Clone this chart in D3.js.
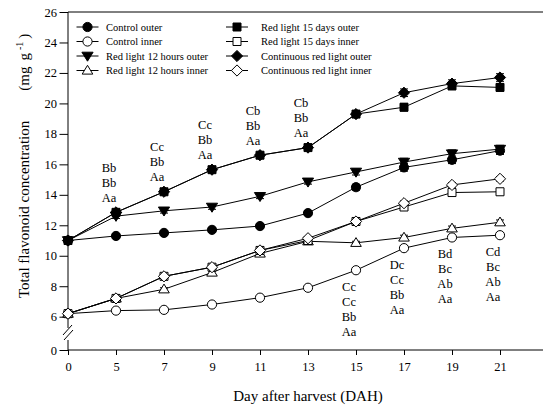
<!doctype html>
<html>
<head>
<meta charset="utf-8">
<script src="https://cdnjs.cloudflare.com/ajax/libs/d3/7.8.5/d3.min.js"></script>
<style>
  body { margin: 0; background: #fff; }
  svg { font-family: "Liberation Serif", "Times New Roman", serif; }
  .axis path.domain { display: none; }
</style>
</head>
<body>
<svg id="chart" width="543" height="411"></svg>
<script>
// days after harvest
var days = [0, 5, 7, 9, 11, 13, 15, 17, 19, 21];

// total flavonoid concentration (mg/g)
var controlOuter = [11.0, 11.3, 11.5, 11.7, 11.95, 12.8, 14.5, 15.8, 16.3, 16.9];
var controlInner = [6.2, 6.4, 6.45, 6.8, 7.25, 7.9, 9.05, 10.5, 11.2, 11.35];
var red12Outer   = [11.0, 12.6, 12.95, 13.2, 13.9, 14.85, 15.5, 16.15, 16.7, 17.0];
var red12Inner   = [6.2, 7.2, 7.8, 8.9, 10.15, 10.95, 10.85, 11.2, 11.8, 12.2];
var red15Outer   = [11.0, 12.85, 14.2, 15.65, 16.6, 17.1, 19.3, 19.75, 21.15, 21.05];
var red15Inner   = [6.2, 7.2, 8.65, 9.25, 10.35, 11.0, 12.25, 13.2, 14.15, 14.2];
var contOuter    = [11.0, 12.85, 14.2, 15.65, 16.6, 17.1, 19.3, 20.7, 21.3, 21.7];
var contInner    = [6.2, 7.2, 8.65, 9.25, 10.35, 11.15, 12.25, 13.45, 14.65, 15.05];

// standard errors
var errSmall = [0.1, 0.1, 0.1, 0.1, 0.1, 0.1, 0.1, 0.15, 0.15, 0.15];
var errLarge = [0.15, 0.15, 0.15, 0.15, 0.15, 0.15, 0.2, 0.25, 0.25, 0.25];

var seriesNames = ["Control outer", "Control inner", "Red light 12 hours outer", "Red light 12 hours inner",
                   "Red light 15 days outer", "Red light 15 days inner", "Continuous red light outer", "Continuous red light inner"];

// significance letters
var annotDays   = [5, 7, 9, 11, 13, 15, 17, 19, 21];
var annotLabels = [["Bb", "Bb", "Aa"], ["Cc", "Bb", "Aa"], ["Cc", "Bb", "Aa"], ["Cb", "Bb", "Aa"], ["Cb", "Bb", "Aa"],
                   ["Cc", "Cc", "Bb", "Aa"], ["Dc", "Cc", "Bb", "Aa"], ["Bd", "Bc", "Ab", "Aa"], ["Cd", "Bc", "Ab", "Aa"]];
var annotPlace  = ["above", "above", "above", "above", "above", "below", "below", "below", "below"];

var yTicks = [0, 6, 8, 10, 12, 14, 16, 18, 20, 22, 24, 26];

var series = [
  { name: seriesNames[0], values: controlOuter, err: errLarge, shape: "circle",   fill: "#000" },
  { name: seriesNames[1], values: controlInner, err: errSmall, shape: "circle",   fill: "#fff" },
  { name: seriesNames[2], values: red12Outer,   err: errLarge, shape: "triDown",  fill: "#000" },
  { name: seriesNames[3], values: red12Inner,   err: errSmall, shape: "triUp",    fill: "#fff" },
  { name: seriesNames[4], values: red15Outer,   err: errLarge, shape: "square",   fill: "#000" },
  { name: seriesNames[5], values: red15Inner,   err: errSmall, shape: "square",   fill: "#fff" },
  { name: seriesNames[6], values: contOuter,    err: errLarge, shape: "diamond",  fill: "#000" },
  { name: seriesNames[7], values: contInner,    err: errSmall, shape: "diamond",  fill: "#fff" }
];

var plotL = 68, plotT = 12, plotB = 350, plotR = 548;

var svg = d3.select("#chart");

var x = d3.scalePoint().domain(days).range([plotL, 500]);
var y = d3.scaleLinear().domain([0, 6, 26]).range([plotB, 316.7, plotT]);

function shapePath(s) {
  if (s == "circle") return "M4.6,0A4.6,4.6 0 1,1 -4.6,0A4.6,4.6 0 1,1 4.6,0Z";
  if (s == "square") return "M-4,-4L4,-4L4,4L-4,4Z";
  if (s == "diamond") return "M0,-5.6L5.6,0L0,5.6L-5.6,0Z";
  if (s == "triUp") return "M0,-5.2L5.3,3.6L-5.3,3.6Z";
  if (s == "triDown") return "M0,5.2L5.6,-3.8L-5.6,-3.8Z";
}

// frame lines
svg.append("line").attr("x1", plotL).attr("x2", plotR).attr("y1", plotT).attr("y2", plotT).attr("stroke", "#000");
svg.append("line").attr("x1", plotL).attr("x2", plotR).attr("y1", plotB).attr("y2", plotB).attr("stroke", "#000");
svg.append("line").attr("x1", plotL).attr("x2", plotL).attr("y1", plotT).attr("y2", 328).attr("stroke", "#000");
svg.append("line").attr("x1", plotL).attr("x2", plotL).attr("y1", 340).attr("y2", plotB).attr("stroke", "#000");
// axis break
svg.append("line").attr("x1", 63).attr("x2", 72).attr("y1", 335).attr("y2", 325).attr("stroke", "#000");
svg.append("line").attr("x1", 64).attr("x2", 73).attr("y1", 340).attr("y2", 330).attr("stroke", "#000");

// axes
var xAxis = d3.axisBottom(x).tickSizeInner(5).tickSizeOuter(0).tickPadding(7);
svg.append("g").attr("class", "axis").attr("transform", "translate(0," + plotB + ")").call(xAxis)
  .selectAll("text").style("font-size", "12.5px").attr("fill", "#000")
  .style("font-family", "Liberation Serif");

var yAxis = d3.axisLeft(y).tickValues(yTicks).tickSizeInner(8.5).tickSizeOuter(0).tickPadding(2.5);
svg.append("g").attr("class", "axis").attr("transform", "translate(" + plotL + ",0)").call(yAxis)
  .selectAll("text").style("font-size", "12.5px").attr("fill", "#000")
  .style("font-family", "Liberation Serif");

svg.selectAll(".axis line").attr("stroke", "#000");

// series
var line = d3.line().x((d, i) => x(days[i])).y(d => y(d));

series.forEach(function(s) {
  var g = svg.append("g");
  g.append("path").attr("d", line(s.values)).attr("fill", "none").attr("stroke", "#000").attr("stroke-width", 1);
  s.values.forEach(function(v, i) {
    var cx = x(days[i]), e = s.err[i];
    g.append("path")
      .attr("d", "M" + cx + "," + y(v - e) + "V" + y(v + e) +
                 "M" + (cx - 4) + "," + y(v - e) + "H" + (cx + 4) +
                 "M" + (cx - 4) + "," + y(v + e) + "H" + (cx + 4))
      .attr("stroke", "#000").attr("fill", "none");
  });
  g.selectAll("path.pt").data(s.values).enter().append("path")
    .attr("class", "pt")
    .attr("d", shapePath(s.shape))
    .attr("transform", (d, i) => "translate(" + x(days[i]) + "," + y(d) + ")")
    .attr("fill", s.fill).attr("stroke", "#000").attr("stroke-width", 1);
});

// legend
var legX = [76.5, 226], legTextX = [106, 261], legY0 = 27, legDy = 14.5;
series.forEach(function(s, i) {
  var col = Math.floor(i / 4), row = i % 4;
  var ly = legY0 + row * legDy;
  svg.append("line").attr("x1", legX[col]).attr("x2", legX[col] + 22).attr("y1", ly).attr("y2", ly).attr("stroke", "#000");
  svg.append("path").attr("d", shapePath(s.shape))
    .attr("transform", "translate(" + (legX[col] + 11) + "," + ly + ")")
    .attr("fill", s.fill).attr("stroke", "#000");
  svg.append("text").attr("x", legTextX[col]).attr("y", ly + 3.5)
    .style("font-size", "10.5px").text(s.name);
});

// letters
annotDays.forEach(function(d, i) {
  var idx = days.indexOf(d);
  var vals = series.map(s => s.values[idx]);
  var labels = annotLabels[i];
  var cx = x(d) - 7;
  labels.forEach(function(lab, j) {
    var cy;
    if (annotPlace[i] == "above") cy = y(d3.max(vals)) - 15 - (labels.length - 1 - j) * 15;
    else cy = y(d3.min(vals)) + 16 + j * 15;
    svg.append("text").attr("x", cx).attr("y", cy + 4.5)
      .attr("text-anchor", "middle").style("font-size", "12.5px").text(lab);
  });
});

// axis titles
svg.append("text").attr("x", 308).attr("y", 401).attr("text-anchor", "middle")
  .style("font-size", "15px").text("Day after harvest (DAH)");

var yt = svg.append("text").attr("transform", "translate(29,298) rotate(-90)")
  .attr("text-anchor", "start").style("font-size", "15px");
yt.append("tspan").text("Total flavonoid concentration");
yt.append("tspan").attr("dx", 30).text("(mg");
yt.append("tspan").attr("dx", 6).text("g");
yt.append("tspan").attr("dx", 3).attr("dy", -6).style("font-size", "10px").text("-1");
yt.append("tspan").attr("dx", 3).attr("dy", 6).text(")");
</script>
</body>
</html>
